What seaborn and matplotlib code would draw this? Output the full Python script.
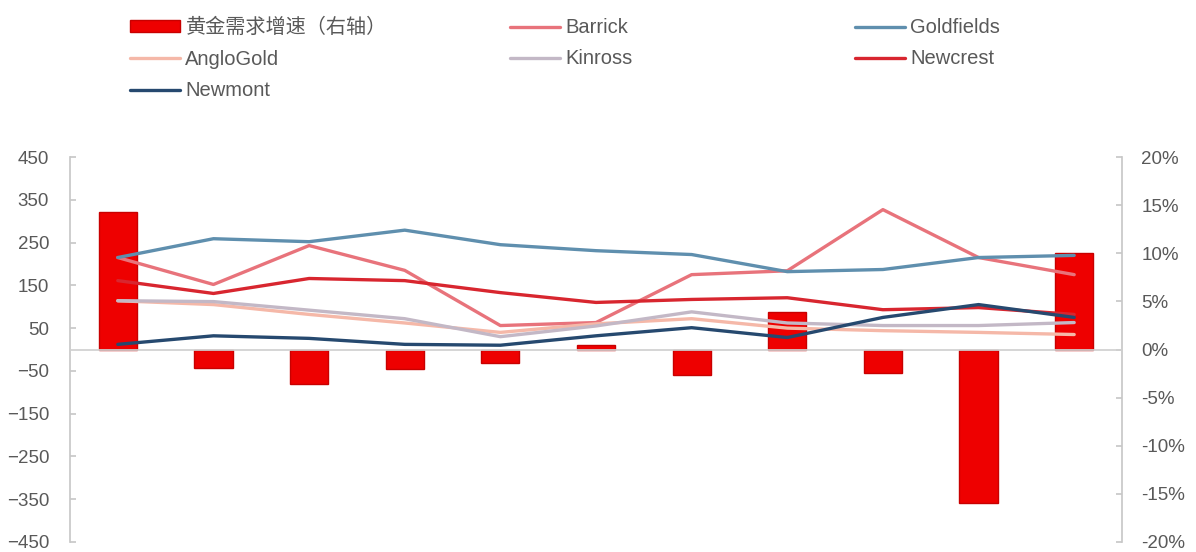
import numpy as np
import pandas as pd
import matplotlib
matplotlib.use("Agg")
import matplotlib.pyplot as plt
from matplotlib.ticker import MultipleLocator, FuncFormatter
import seaborn as sns

# ---------------- data ----------------
categories = ["2008", "2009", "2010", "2011", "2012", "2013",
              "2014", "2015", "2016", "2017", "2018"]
gold_demand_growth = [14.3, -1.9, -3.6, -2.0, -1.4, 0.5, -2.6, 3.9, -2.4, -15.9, 10.0]  # %, right axis
barrick = [215, 152, 243, 185, 56, 63, 175, 184, 327, 215, 175]
goldfields = [215, 259, 252, 279, 245, 231, 222, 182, 187, 215, 220]
anglogold = [114, 105, 82, 62, 40, 60, 72, 50, 44, 40, 35]
kinross = [114, 112, 92, 72, 30, 55, 88, 62, 56, 56, 63]
newcrest = [161, 131, 166, 161, 133, 110, 117, 121, 93, 98, 82]
newmont = [12, 32, 26, 12, 10, 32, 51, 28, 75, 105, 75]

bar_label = "黄金需求增速（右轴）"
companies = ["Barrick", "Goldfields", "AngloGold", "Kinross", "Newcrest", "Newmont"]
series = [barrick, goldfields, anglogold, kinross, newcrest, newmont]
palette = {
    "Barrick": "#e8737b",
    "Goldfields": "#5f8fae",
    "AngloGold": "#f5b8a8",
    "Kinross": "#c3b8c6",
    "Newcrest": "#d8262f",
    "Newmont": "#26496f",
}
bar_color = "#ee0000"
bar_edge = "#c80000"

idx = np.arange(len(categories))
df = pd.DataFrame({
    "idx": np.tile(idx, len(companies)),
    "company": np.repeat(companies, len(categories)),
    "value": np.concatenate(series),
})

# ---------------- style ----------------
sns.set_theme(style="white")
plt.rcParams["font.family"] = ["Liberation Sans", "Noto Sans CJK SC", "DejaVu Sans"]

W, H = 1196, 552
fig = plt.figure(figsize=(W / 100, H / 100), dpi=100)
ax = fig.add_axes([70 / W, 1 - 542 / H, (1122 - 70) / W, (542 - 157) / H])
ax2 = ax.twinx()

# bars on the right axis
sns.barplot(x=idx, y=gold_demand_growth, ax=ax2, color=bar_color, saturation=1,
            width=0.4, edgecolor=bar_edge, linewidth=1)

# lines on the left axis
sns.lineplot(data=df, x="idx", y="value", hue="company", hue_order=companies,
             palette=palette, ax=ax, linewidth=2.4, legend=False)

ax.set_zorder(ax2.get_zorder() + 1)
ax.patch.set_visible(False)

ax.set_xlim(-0.5, len(categories) - 0.5)
ax2.set_xlim(-0.5, len(categories) - 0.5)
ax.set_ylim(-450, 450)
ax.set_yticks(np.arange(-450, 451, 100))
ax2.set_ylim(-20, 20)
ax2.yaxis.set_major_locator(MultipleLocator(5))
ax2.yaxis.set_major_formatter(FuncFormatter(lambda v, p: f"{int(round(v))}%"))

for a in (ax, ax2):
    a.set_xlabel("")
    a.set_ylabel("")
    a.grid(False)
    a.tick_params(axis="x", bottom=False, labelbottom=False, top=False)

spine_c = "#c8c8c8"
ax.spines["top"].set_visible(False)
ax.spines["right"].set_visible(False)
ax.spines["left"].set_color(spine_c)
ax.spines["bottom"].set_position(("data", 0))
ax.spines["bottom"].set_color("#d0d0d0")
for s in ("top", "bottom", "left"):
    ax2.spines[s].set_visible(False)
ax2.spines["right"].set_color(spine_c)

ax.tick_params(axis="y", left=True, direction="in", length=4, color=spine_c,
               labelcolor="#595959", labelsize=13.5, pad=15)
ax2.tick_params(axis="y", right=True, direction="in", length=4, color=spine_c,
                labelcolor="#595959", labelsize=13.5, pad=14)

# ---------------- legend (three fixed-position columns) ----------------
lines = {c: l for c, l in zip(companies, ax.get_lines())}
bar_handle = ax2.patches[0]
cols = [
    (130, [bar_handle, lines["AngloGold"], lines["Newmont"]], [bar_label, "AngloGold", "Newmont"]),
    (510, [lines["Barrick"], lines["Kinross"]], ["Barrick", "Kinross"]),
    (855, [lines["Goldfields"], lines["Newcrest"]], ["Goldfields", "Newcrest"]),
]
for x0, hs, ls in cols:
    fig.legend(hs, ls, loc="upper left", bbox_to_anchor=(x0 / W, 1 - 18 / H),
               frameon=False, fontsize=14.5, handlelength=2.5, handletextpad=0.25,
               handleheight=0.5, labelspacing=0.62, borderpad=0, borderaxespad=0,
               labelcolor="#595959")

fig.savefig("out.png", dpi=100)
